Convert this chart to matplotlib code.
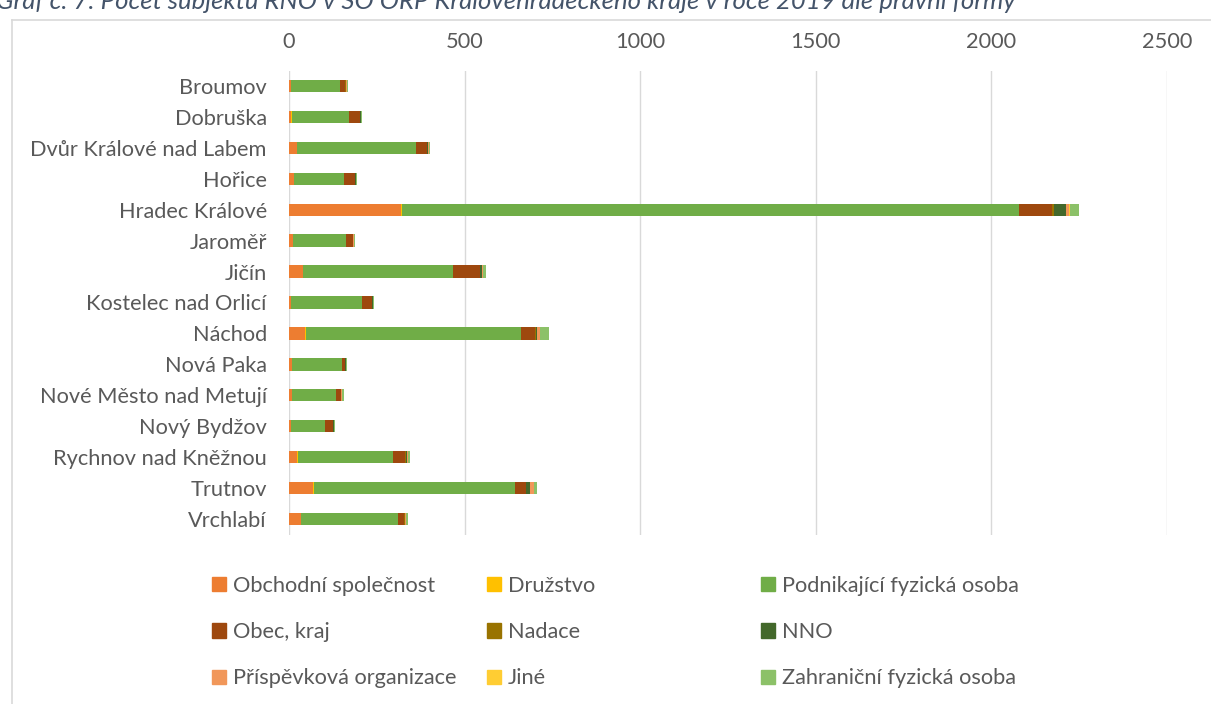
import matplotlib.pyplot as plt
from matplotlib.lines import Line2D
from matplotlib.patches import Patch
import numpy as np

plt.rcParams['font.family'] = ['Lato', 'DejaVu Sans']

cities = [
    "Broumov", "Dobruška", "Dvůr Králové nad Labem", "Hořice", "Hradec Králové",
    "Jaroměř", "Jičín", "Kostelec nad Orlicí", "Náchod", "Nová Paka",
    "Nové Město nad Metují", "Nový Bydžov", "Rychnov nad Kněžnou", "Trutnov", "Vrchlabí",
]

obchodni = [5, 6, 22, 13, 318, 10, 40, 6, 45, 8, 8, 6, 24, 68, 34]
druzstvo = [1, 3, 1, 1, 4, 1, 1, 1, 2, 1, 1, 1, 1, 3, 1]
podnikajici = [140, 162, 340, 143, 1757, 150, 425, 200, 613, 142, 125, 96, 272, 572, 276]
obec = [14, 30, 30, 30, 94, 20, 77, 28, 40, 8, 13, 22, 34, 31, 17]
nadace = [1, 1, 1, 1, 4, 1, 2, 1, 4, 1, 1, 1, 1, 2, 1]
nno = [2, 2, 3, 2, 34, 1, 5, 3, 3, 1, 1, 1, 5, 11, 1]
prispevkova = [2, 1, 3, 1, 10, 1, 2, 1, 8, 1, 2, 1, 2, 10, 2]
jine = [0, 0, 0, 0, 3, 0, 0, 0, 1, 0, 0, 0, 0, 1, 0]
zahranicni = [4, 3, 2, 2, 25, 4, 8, 3, 23, 3, 6, 2, 5, 8, 8]

series_names = [
    "Obchodní společnost", "Družstvo", "Podnikající fyzická osoba",
    "Obec, kraj", "Nadace", "NNO",
    "Příspěvková organizace", "Jiné", "Zahraniční fyzická osoba",
]
series = [obchodni, druzstvo, podnikajici, obec, nadace, nno, prispevkova, jine, zahranicni]
colors = ["#ED7D31", "#FFC000", "#70AD47", "#9E480E", "#997300", "#43682B",
          "#F1975A", "#FFCD33", "#8CC168"]

text_color = "#595959"
grid_color = "#D9D9D9"
fs = 15.7

fig = plt.figure(figsize=(12.11, 7.04), dpi=100)
ax = fig.add_axes([289 / 1211, 1 - 534.5 / 704, (1167 - 289) / 1211, (534.5 - 70.5) / 704])

y = np.arange(len(cities))
left = np.zeros(len(cities))
for vals, col, name in zip(series, colors, series_names):
    ax.barh(y, vals, left=left, height=0.4, color=col, label=name, zorder=3)
    left += np.array(vals)

ax.set_xlim(0, 2500)
ax.set_ylim(len(cities) - 0.5, -0.5)
ax.set_xticks(np.arange(0, 2501, 500))
ax.set_yticks(y)
ax.set_yticklabels(cities)
ax.xaxis.tick_top()
ax.tick_params(axis='both', length=0, labelsize=fs, colors=text_color)
ax.tick_params(axis='x', pad=13)
ax.tick_params(axis='y', pad=16)
ax.grid(axis='x', color=grid_color, linewidth=1.0, zorder=0)
for s in ax.spines.values():
    s.set_visible(False)

# legend: three columns placed separately
xs = [212 / 1211, 487 / 1211, 761 / 1211]
for c in range(3):
    handles = [Patch(color=colors[r * 3 + c]) for r in range(3)]
    labels = [series_names[r * 3 + c] for r in range(3)]
    leg = fig.legend(handles, labels, loc='upper left', bbox_to_anchor=(xs[c], 1 - 576 / 704),
                     frameon=False, fontsize=fs, labelspacing=1.2, handlelength=0.62,
                     handleheight=0.62, handletextpad=0.35, borderpad=0, borderaxespad=0)
    for t in leg.get_texts():
        t.set_color(text_color)

# chart frame (partially visible)
fig.add_artist(Line2D([12 / 1211, 1], [1 - 20 / 704, 1 - 20 / 704], color=grid_color, linewidth=1.2))
fig.add_artist(Line2D([12 / 1211, 12 / 1211], [1 - 20 / 704, 0], color=grid_color, linewidth=1.2))

fig.text(-0.003, 1 - 9 / 704,
         "Graf č. 7: Počet subjektů RNO v SO ORP Královéhradeckého kraje v roce 2019 dle právní formy",
         fontsize=18.5, style='italic', color="#44546A", va='baseline', ha='left')

fig.savefig("out.png", dpi=100)
